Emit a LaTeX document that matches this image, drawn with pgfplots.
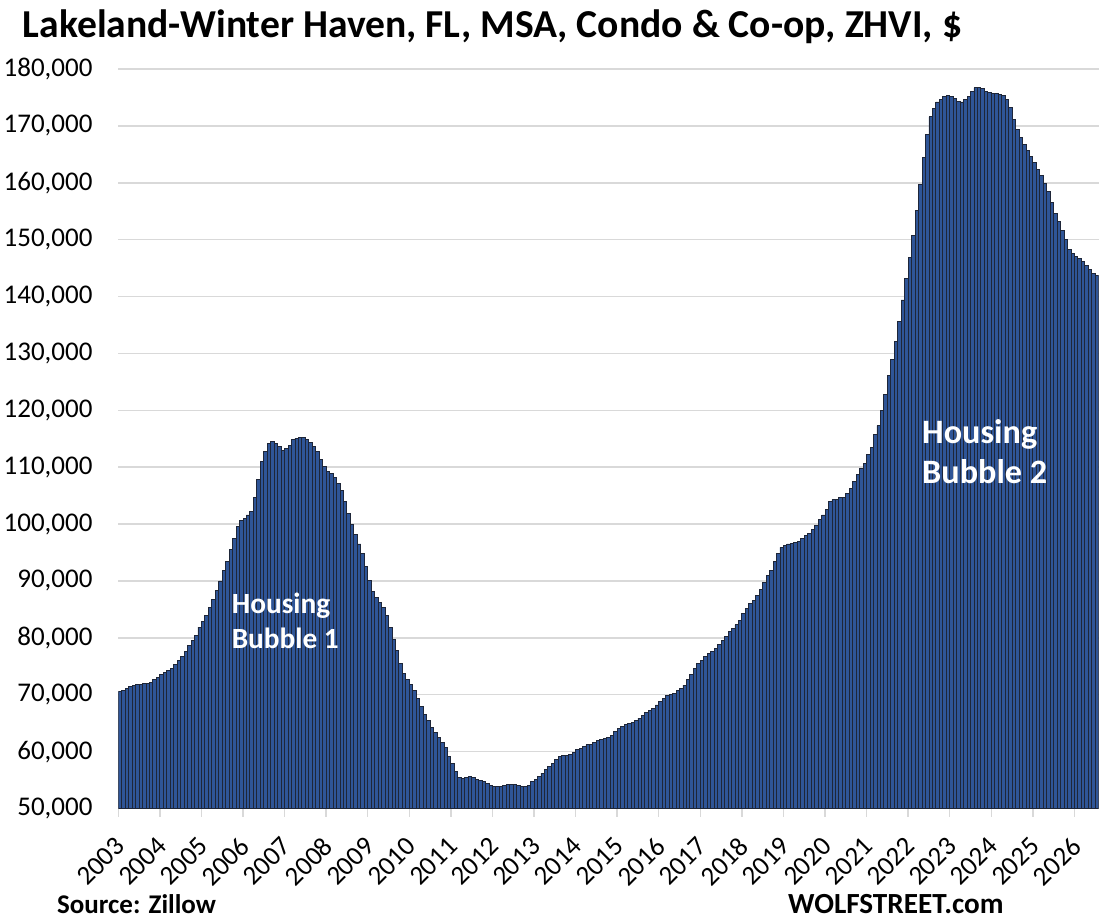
\documentclass[border=0pt]{standalone}
\usepackage{pgfplots}
\pgfplotsset{compat=1.18}
\usepackage{pgfplotstable}
\usepackage{fontspec}
\setmainfont{Carlito}
\definecolor{barblue}{RGB}{47,85,151}
\definecolor{bardark}{RGB}{30,38,56}
\definecolor{gridgray}{RGB}{217,217,217}
\pgfplotstableread{
v
70600
70800
71100
71400
71600
71800
71800
71900
72000
72100
72600
73100
73500
73900
74200
74700
75400
76000
76800
77600
78600
79600
80500
81900
82900
84000
85300
86700
88300
90000
91800
93500
95500
97500
99600
100600
101000
101600
102200
104600
107800
111000
112800
114200
114500
114200
113600
113000
113300
113900
114800
115100
115300
115200
114900
114300
113600
112800
111300
110100
109200
108900
108200
107200
105900
103900
101900
100000
98200
96500
94900
92600
90100
88100
87100
86300
85300
84000
81900
79700
77700
75500
73800
72700
71800
70700
69400
68000
66600
65400
64200
63300
62500
61600
60700
59200
57900
56500
55500
55200
55500
55600
55400
55100
55000
54700
54400
54000
53800
53800
53900
54000
54200
54200
54200
54100
53900
53800
54100
54700
55100
55600
56200
56800
57400
57900
58600
59100
59400
59400
59500
59900
60300
60500
60900
61200
61300
61600
61900
62200
62300
62500
62800
63500
64100
64400
64700
65000
65100
65400
65900
66400
66900
67300
67600
68200
68800
69400
69800
70000
70300
70700
71100
71700
72600
73500
74700
75500
76100
76700
77200
77600
78200
78800
79600
80300
81100
81700
82300
83000
84300
85200
86000
86600
87400
88500
89700
90900
91900
93400
94800
95900
96300
96500
96600
96800
96900
97500
98000
98400
99000
99700
100800
101600
102600
104000
104300
104400
104600
104700
105300
106300
107500
108800
109800
110700
112200
113500
115700
117300
119900
122700
126100
128900
132100
135600
139400
143100
146900
150800
155100
159700
164500
168500
171600
173000
174200
174700
175200
175400
175200
174900
174300
174200
174600
175200
176100
176700
176700
176500
176100
175800
175700
175700
175600
175300
174700
173200
171100
169300
168000
166800
165700
164600
163600
162400
161200
159800
158400
156500
154600
153200
151600
150000
148200
147600
147100
146700
146200
145500
144700
144100
143700
}\zhvi
\begin{document}
\begin{tikzpicture}[x=1pt,y=1pt]
\path[use as bounding box] (0,0) rectangle (1107,922);
\begin{axis}[
  at={(118.3pt,113.5pt)}, anchor=south west,
  scale only axis, width=980.4pt, height=739.5pt,
  xmin=-0.5, xmax=282.5, ymin=50000, ymax=180000,
  axis x line*=bottom, axis y line*=left,
  x axis line style={draw=gridgray, line width=1.5pt},
  y axis line style={draw=none},
  ymajorgrids, grid style={draw=gridgray, line width=1.5pt},
  ytick={50000,60000,...,180000},
  scaled y ticks=false,
  /pgf/number format/fixed,
  /pgf/number format/1000 sep={,},
  /pgf/number format/assume math mode=true,
  yticklabel style={font=\fontsize{27}{30}\selectfont, inner sep=0pt, anchor=east, xshift=-17.6pt},
  ytick style={draw=none},
  xtick={-0.5,11.5,...,275.5},
  xticklabels={2003,2004,2005,2006,2007,2008,2009,2010,2011,2012,2013,2014,2015,2016,2017,2018,2019,2020,2021,2022,2023,2024,2025,2026},
  xticklabel style={font=\fontsize{27}{30}\selectfont, xshift=2pt, yshift=-25.5pt, rotate=45, anchor=east, inner sep=0pt},
  xtick style={draw=gridgray, line width=1.5pt},
  tick align=outside, major tick length=8pt,
  clip=true,
]
\addplot[ybar, bar width=3.463pt, fill=barblue, draw=bardark, line width=0.9pt, bar shift=0pt]
  table[x expr=\coordindex, y=v] {\zhvi};
\node[anchor=west, align=left, text=white, inner sep=0pt,
  font=\bfseries\fontsize{29.3}{35}\selectfont] at (axis cs:32.2,83000) {Housing\\Bubble 1};
\node[anchor=west, align=left, text=white, inner sep=0pt,
  font=\bfseries\fontsize{34.2}{40}\selectfont] at (axis cs:231.5,112800) {Housing\\Bubble 2};
\end{axis}
\node[anchor=base west, inner sep=0pt, font=\bfseries\fontsize{39.6}{44}\selectfont] at (22.7,884) {Lakeland-Winter Haven, FL, MSA, Condo \& Co-op, ZHVI, \$};
\node[anchor=base west, inner sep=0pt, font=\bfseries\fontsize{27}{30}\selectfont] at (57,8.7) {Source: Zillow};
\node[anchor=base west, inner sep=0pt, font=\bfseries\fontsize{29.2}{32}\selectfont] at (788,8.7) {WOLFSTREET.com};
\end{tikzpicture}
\end{document}
